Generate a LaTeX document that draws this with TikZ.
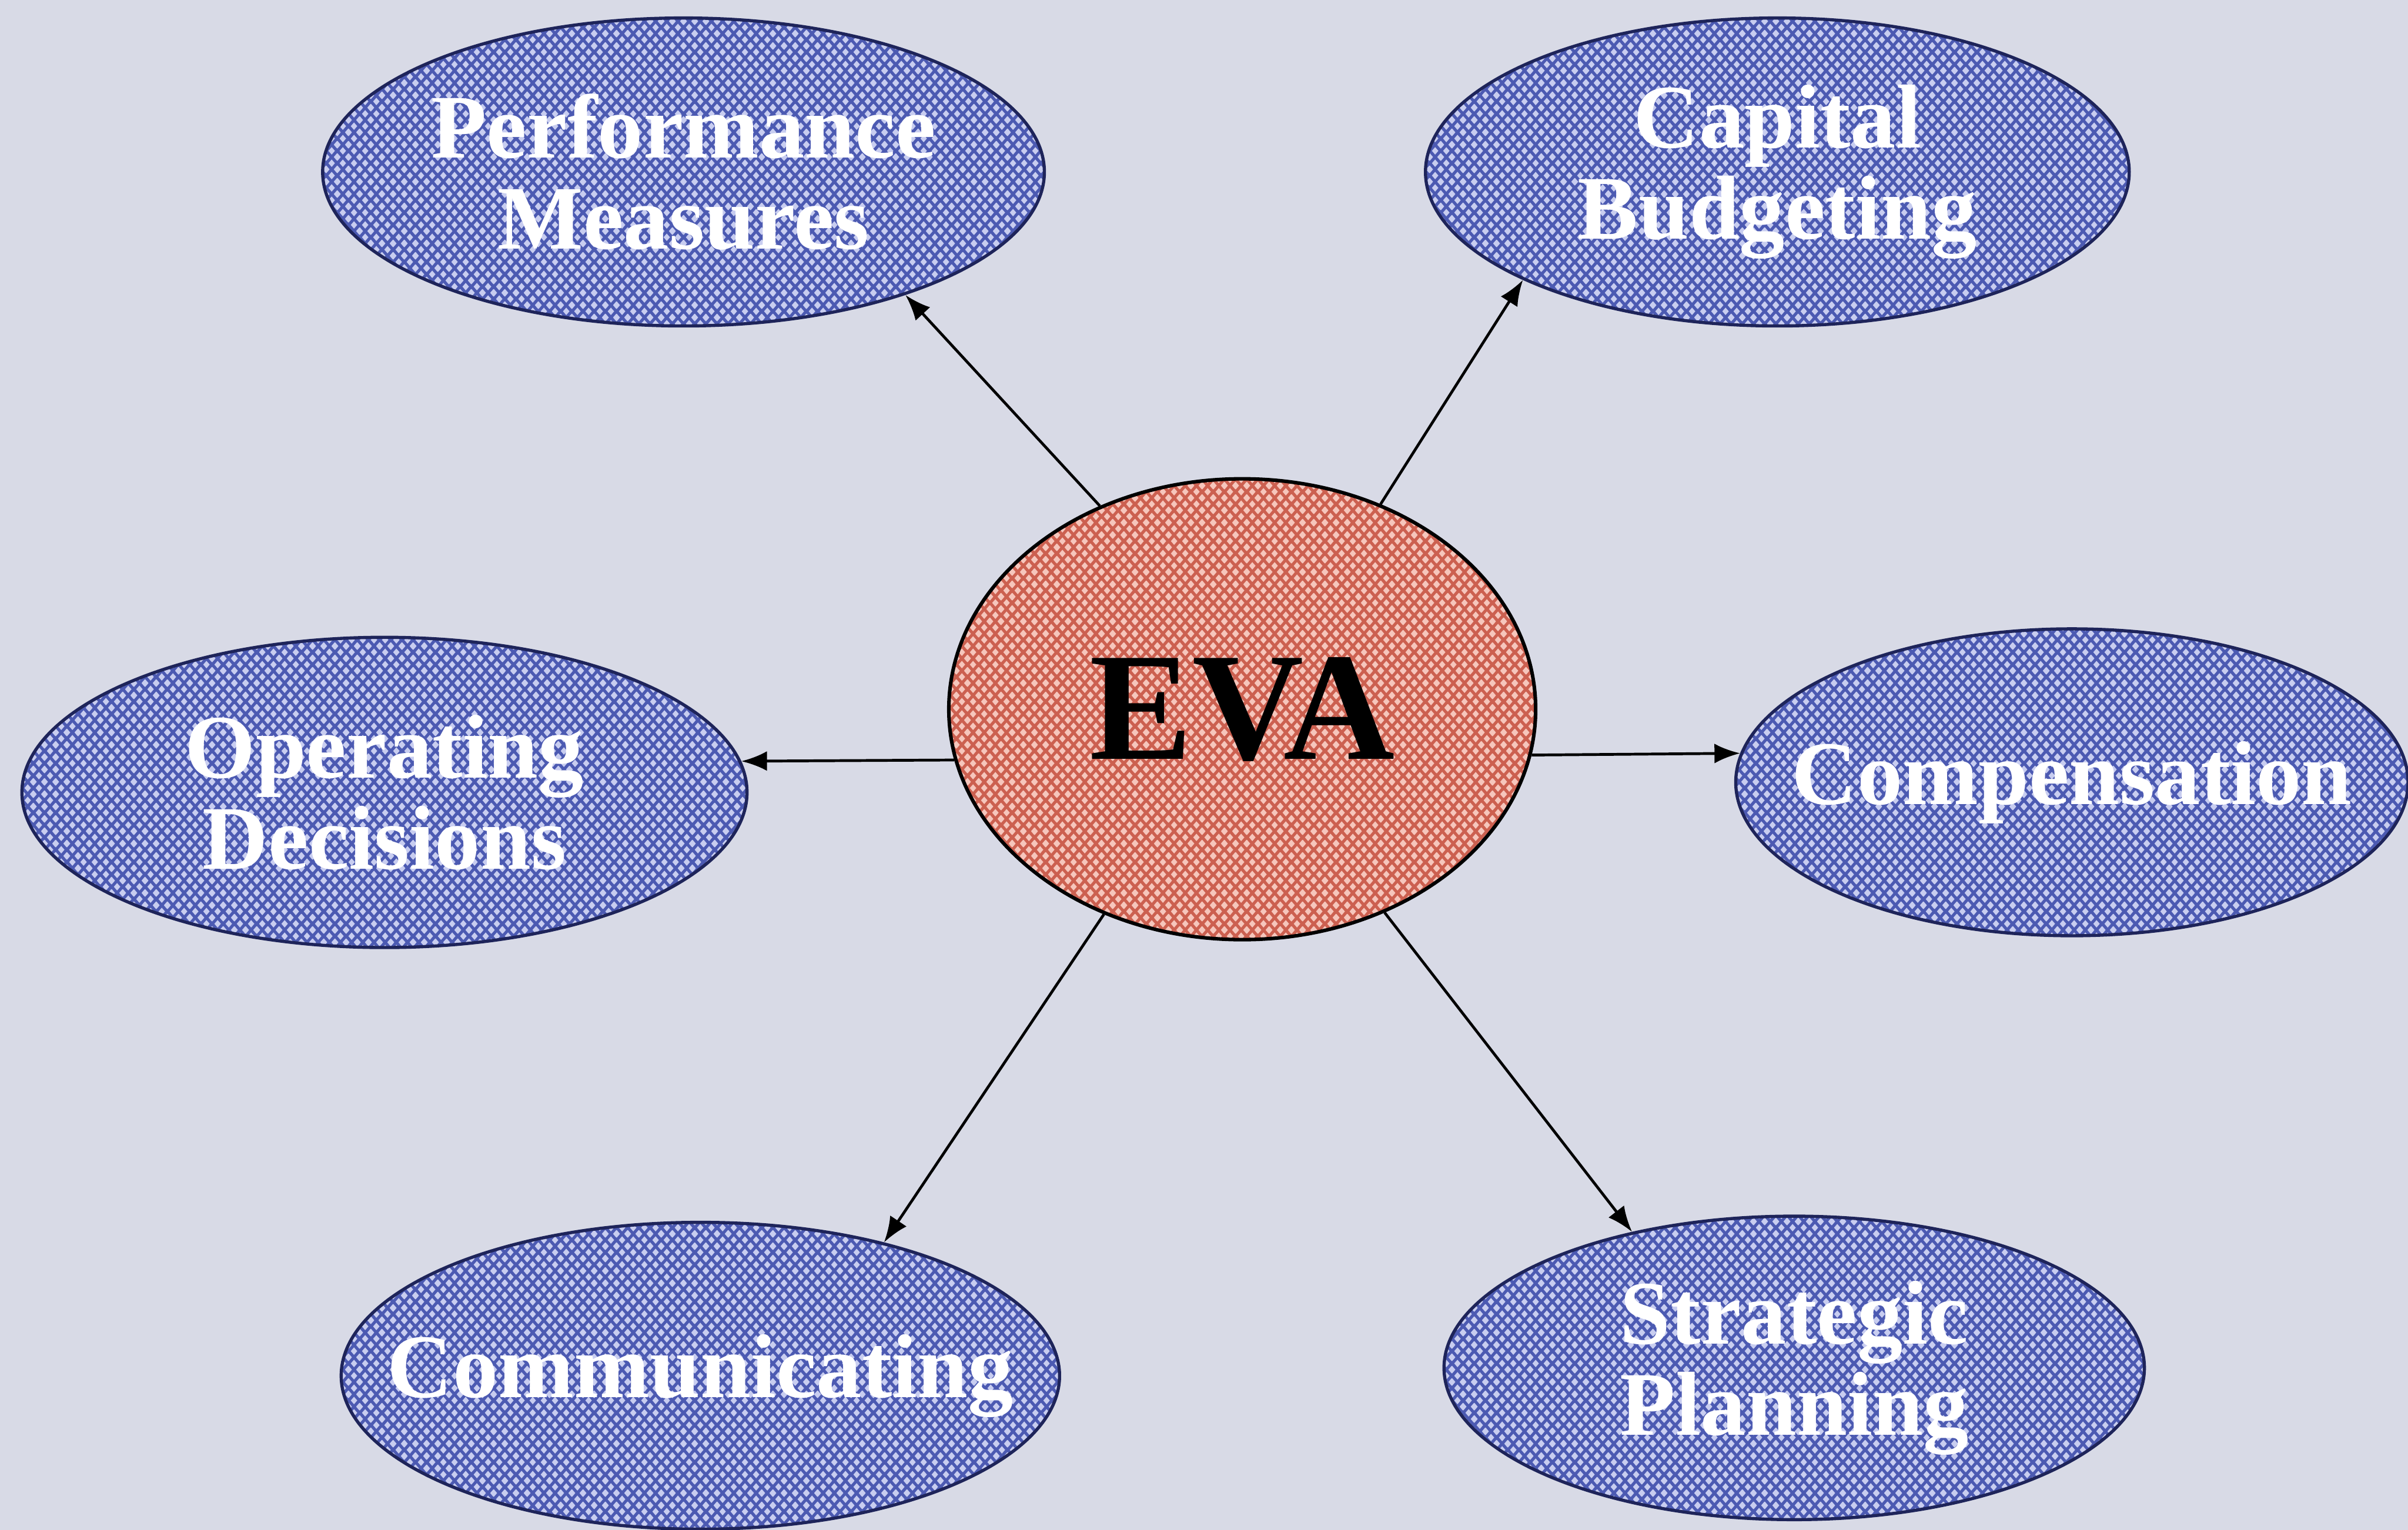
\documentclass[tikz,border=0pt]{standalone}
\usepackage{fontspec}
\setmainfont{Liberation Serif}
\usepackage{tikz}
\usetikzlibrary{arrows.meta,shapes.geometric,patterns}
\definecolor{paper}{RGB}{216,218,230}
\definecolor{meshblue}{RGB}{76,90,178}
\definecolor{holeblue}{RGB}{200,205,240}
\definecolor{meshred}{RGB}{204,96,80}
\definecolor{holered}{RGB}{246,198,188}
\definecolor{rimblue}{RGB}{30,36,90}
% diamond holes of the mesh fill
\newcommand\meshhole[2]{%
  \pgfpathmoveto{\pgfpoint{#1}{#2-0.95pt}}%
  \pgfpathlineto{\pgfpoint{#1+0.85pt}{#2}}%
  \pgfpathlineto{\pgfpoint{#1}{#2+0.95pt}}%
  \pgfpathlineto{\pgfpoint{#1-0.85pt}{#2}}%
  \pgfpathclose}
\pgfdeclarepatternformonly{meshdots}{\pgfqpoint{0pt}{0pt}}{\pgfqpoint{2.85pt}{3.1pt}}{\pgfqpoint{2.85pt}{3.1pt}}{%
  \meshhole{0pt}{0pt}\meshhole{2.85pt}{0pt}\meshhole{0pt}{3.1pt}\meshhole{2.85pt}{3.1pt}%
  \meshhole{1.425pt}{1.55pt}%
  \pgfusepath{fill}}
\tikzset{
  topic/.style={ellipse,draw=rimblue,line width=0.8pt,preaction={fill=meshblue},
    pattern=meshdots,pattern color=holeblue,text=white,align=center,
    inner ysep=0pt,inner xsep=-1.2cm,font=\fontsize{23}{23}\selectfont\bfseries},
  core/.style ={ellipse,draw=black,line width=0.9pt,preaction={fill=meshred},
    pattern=meshdots,pattern color=holered,inner sep=0pt,
    minimum width=5.22cm,minimum height=4.10cm,
    font=\fontsize{39}{39}\selectfont\bfseries},
  link/.style ={-{Latex[length=6.5pt,width=5pt]},line width=0.7pt,black},
}
\begin{document}
\begin{tikzpicture}
  \useasboundingbox (0,0) rectangle (21.42,13.61);
  \fill[paper] (0,0) rectangle (21.42,13.61);
  % centre
  \node[core] (eva) at (11.05,7.30) {EVA};
  % uses of EVA around it
  \node[topic,minimum width=6.42cm,minimum height=2.74cm] (perf) at (6.08,12.08) {Performance\\Measures};
  \node[topic,minimum width=6.26cm,minimum height=2.74cm] (capbud) at (15.81,12.08) {Capital\\Budgeting};
  \node[topic,minimum width=6.45cm,minimum height=2.76cm] (opdec) at (3.42,6.56) {Operating\\Decisions};
  \node[topic,minimum width=5.98cm,minimum height=2.73cm] (comp) at (18.43,6.65) {Compensation};
  \node[topic,minimum width=6.39cm,minimum height=2.73cm] (comm) at (6.23,1.37) {Communicating};
  \node[topic,minimum width=6.23cm,minimum height=2.70cm] (strat) at (15.96,1.44) {Strategic\\Planning};
  % spokes
  \draw[link] (eva.125) -- (perf.331);
  \draw[link] (eva.56)  -- (capbud.203);
  \draw[link] (eva.190) -- (opdec.5);
  \draw[link] (eva.351) -- (comp.175);
  \draw[link] (eva.236) -- (comm.36);
  \draw[link] (eva.305) -- (strat.140);
\end{tikzpicture}
\end{document}
